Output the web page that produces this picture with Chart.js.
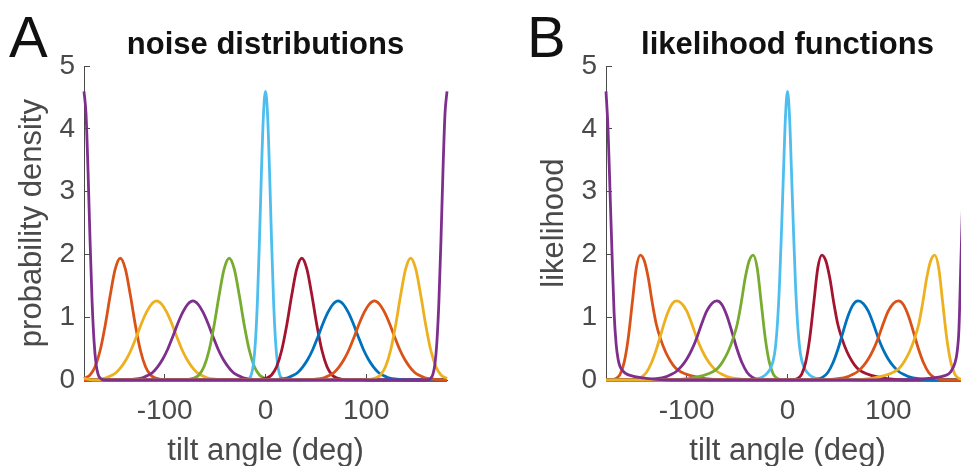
<!DOCTYPE html>
<html>
<head>
<meta charset="utf-8">
<script src="https://cdn.jsdelivr.net/npm/chart.js@4.4.1/dist/chart.umd.min.js"></script>
<style>
  html, body { margin: 0; padding: 0; background: #fff; overflow: hidden; width: 961px; height: 466px; }
  .panel { position: absolute; top: 0; width: 480px; height: 466px; }
  .letter { position: absolute; top: 8px; font-family: 'Liberation Sans', Arial, Helvetica, sans-serif; font-size: 58px; line-height: 1; color: #111; }
</style>
</head>
<body>
<div class="letter" style="left:9px">A</div>
<div class="letter" style="left:527px">B</div>
<div class="panel" style="left:0px"><canvas id="chartA"></canvas></div>
<div class="panel" style="left:522px"><canvas id="chartB"></canvas></div>

<script>
// colores matlab
const BLUE = '#0072BD', ORANGE = '#D95319', YELLOW = '#EDB120', PURPLE = '#7E2F8E',
      GREEN = '#77AC30', CYAN = '#4DBEEE', RED = '#A2142F';

// ---- A: noise distributions ----
const aOrange1X = [-180, -174, -169, -164, -159, -154, -149, -144, -139, -134, -129, -124, -119, -114, -109, -104, -94, 170, 180];
const aOrange1Y = [0.025, 0.08, 0.21, 0.47, 0.87, 1.35, 1.77, 1.94, 1.77, 1.35, 0.87, 0.47, 0.21, 0.08, 0.03, 0.01, 0, 0, 0.025];
const aYellow1X = [-180, -168, -158, -153, -148, -143, -138, -133, -128, -123, -118, -113, -108, -103, -98, -93, -88, -83, -78, -73, -68, -63, -58, -48, -38, 180];
const aYellow1Y = [0, 0.01, 0.035, 0.07, 0.12, 0.21, 0.33, 0.49, 0.69, 0.90, 1.08, 1.21, 1.26, 1.21, 1.08, 0.90, 0.69, 0.49, 0.33, 0.21, 0.12, 0.07, 0.035, 0.01, 0, 0];
const aPurple1X = [-180, -142, -132, -122, -117, -112, -107, -102, -97, -92, -87, -82, -77, -72, -67, -62, -57, -52, -47, -42, -37, -32, -27, -22, -12, -2, 180];
const aPurple1Y = [0, 0, 0.01, 0.035, 0.07, 0.12, 0.21, 0.33, 0.49, 0.69, 0.90, 1.08, 1.21, 1.26, 1.21, 1.08, 0.90, 0.69, 0.49, 0.33, 0.21, 0.12, 0.07, 0.035, 0.01, 0, 0];
const aGreenX = [-180, -86, -76, -71, -66, -61, -56, -51, -46, -41, -36, -31, -26, -21, -16, -11, -6, -1, 4, 14, 180];
const aGreenY = [0, 0, 0.01, 0.03, 0.08, 0.21, 0.47, 0.87, 1.35, 1.77, 1.94, 1.77, 1.35, 0.87, 0.47, 0.21, 0.08, 0.03, 0.01, 0, 0];
const aCyanX = [-180, -20, -16, -14, -12, -10, -8, -6, -4, -2, 0, 2, 4, 6, 8, 10, 12, 14, 16, 20, 180];
const aCyanY = [0, 0, 0.03, 0.09, 0.25, 0.61, 1.26, 2.22, 3.33, 4.24, 4.6, 4.24, 3.33, 2.22, 1.26, 0.61, 0.25, 0.09, 0.03, 0, 0];
const aRedX = [-180, -14, -4, 1, 6, 11, 16, 21, 26, 31, 36, 41, 46, 51, 56, 61, 66, 71, 76, 86, 180];
const aRedY = [0, 0, 0.01, 0.03, 0.08, 0.21, 0.47, 0.87, 1.35, 1.77, 1.94, 1.77, 1.35, 0.87, 0.47, 0.21, 0.08, 0.03, 0.01, 0, 0];
const aBlueX = [-180, 2, 12, 22, 27, 32, 37, 42, 47, 52, 57, 62, 67, 72, 77, 82, 87, 92, 97, 102, 107, 112, 117, 122, 132, 142, 180];
const aBlueY = [0, 0, 0.01, 0.035, 0.07, 0.12, 0.21, 0.33, 0.49, 0.69, 0.90, 1.08, 1.21, 1.26, 1.21, 1.08, 0.90, 0.69, 0.49, 0.33, 0.21, 0.12, 0.07, 0.035, 0.01, 0, 0];
const aOrange2X = [-180, 38, 48, 58, 63, 68, 73, 78, 83, 88, 93, 98, 103, 108, 113, 118, 123, 128, 133, 138, 143, 148, 153, 158, 168, 180];
const aOrange2Y = [0, 0, 0.01, 0.035, 0.07, 0.12, 0.21, 0.33, 0.49, 0.69, 0.90, 1.08, 1.21, 1.26, 1.21, 1.08, 0.90, 0.69, 0.49, 0.33, 0.21, 0.12, 0.07, 0.035, 0.01, 0];
const aYellow2X = [-180, -170, 94, 104, 109, 114, 119, 124, 129, 134, 139, 144, 149, 154, 159, 164, 169, 174, 180];
const aYellow2Y = [0.025, 0, 0, 0.01, 0.03, 0.08, 0.21, 0.47, 0.87, 1.35, 1.77, 1.94, 1.77, 1.35, 0.87, 0.47, 0.21, 0.08, 0.025];
const aPurple2X = [-180, -178, -176, -174, -172, -170, -168, -166, -164, -160, 160, 164, 166, 168, 170, 172, 174, 176, 178, 180];
const aPurple2Y = [4.6, 4.24, 3.33, 2.22, 1.26, 0.61, 0.25, 0.09, 0.03, 0, 0, 0.03, 0.09, 0.25, 0.61, 1.26, 2.22, 3.33, 4.24, 4.6];

// ---- B: likelihood functions ----
const bOrange1X = [-180, -176, -170, -166, -162, -158, -154, -150, -146, -142, -138, -134, -130, -126, -121, -116, -111, -106, -96, -86, -76, -61, 180];
const bOrange1Y = [0, 0, 0.025, 0.09, 0.28, 0.66, 1.22, 1.78, 1.99, 1.90, 1.62, 1.22, 0.88, 0.66, 0.45, 0.30, 0.19, 0.13, 0.07, 0.035, 0.015, 0, 0];
const bYellow1X = [-180, -160, -150, -145, -140, -135, -130, -125, -120, -115, -110, -105, -100, -95, -90, -85, -80, -75, -70, -65, -60, -50, -40, -25, 180];
const bYellow1Y = [0, 0, 0.015, 0.045, 0.12, 0.27, 0.49, 0.76, 1.02, 1.20, 1.26, 1.22, 1.10, 0.90, 0.67, 0.48, 0.33, 0.22, 0.14, 0.09, 0.055, 0.02, 0.006, 0, 0];
const bPurple1X = [-180, -155, -140, -130, -120, -115, -110, -105, -100, -95, -90, -85, -80, -75, -70, -65, -60, -55, -50, -45, -40, -35, -30, -20, 180];
const bPurple1Y = [0, 0, 0.006, 0.02, 0.055, 0.09, 0.14, 0.22, 0.33, 0.48, 0.67, 0.90, 1.10, 1.22, 1.26, 1.20, 1.02, 0.76, 0.49, 0.27, 0.12, 0.045, 0.015, 0, 0];
const bGreenX = [-180, -119, -104, -94, -84, -74, -69, -64, -59, -54, -50, -46, -42, -38, -34, -30, -26, -22, -18, -14, -10, -4, 180];
const bGreenY = [0, 0, 0.015, 0.035, 0.07, 0.13, 0.19, 0.30, 0.45, 0.66, 0.88, 1.22, 1.62, 1.90, 1.99, 1.78, 1.22, 0.66, 0.28, 0.09, 0.025, 0, 0];
const bCyanX = [-180, -40, -32, -26, -22, -18, -16, -14, -12, -10, -8, -6, -4, -2, 0, 2, 4, 6, 8, 10, 12, 14, 16, 18, 22, 26, 32, 40, 180];
const bCyanY = [0, 0, 0.015, 0.04, 0.08, 0.15, 0.22, 0.32, 0.52, 0.9, 1.5, 2.35, 3.3, 4.2, 4.6, 4.2, 3.3, 2.35, 1.5, 0.9, 0.52, 0.32, 0.22, 0.15, 0.08, 0.04, 0.015, 0, 0];
const bRedX = [-180, 4, 10, 14, 18, 22, 26, 30, 34, 38, 42, 46, 50, 54, 59, 64, 69, 74, 84, 94, 104, 119, 180];
const bRedY = [0, 0, 0.025, 0.09, 0.28, 0.66, 1.22, 1.78, 1.99, 1.90, 1.62, 1.22, 0.88, 0.66, 0.45, 0.30, 0.19, 0.13, 0.07, 0.035, 0.015, 0, 0];
const bBlueX = [-180, 20, 30, 35, 40, 45, 50, 55, 60, 65, 70, 75, 80, 85, 90, 95, 100, 105, 110, 115, 120, 130, 140, 155, 180];
const bBlueY = [0, 0, 0.015, 0.045, 0.12, 0.27, 0.49, 0.76, 1.02, 1.20, 1.26, 1.22, 1.10, 0.90, 0.67, 0.48, 0.33, 0.22, 0.14, 0.09, 0.055, 0.02, 0.006, 0, 0];
const bOrange2X = [-180, 25, 40, 50, 60, 65, 70, 75, 80, 85, 90, 95, 100, 105, 110, 115, 120, 125, 130, 135, 140, 145, 150, 160, 180];
const bOrange2Y = [0, 0, 0.006, 0.02, 0.055, 0.09, 0.14, 0.22, 0.33, 0.48, 0.67, 0.90, 1.10, 1.22, 1.26, 1.20, 1.02, 0.76, 0.49, 0.27, 0.12, 0.045, 0.015, 0, 0];
const bYellow2X = [-180, 61, 76, 86, 96, 106, 111, 116, 121, 126, 130, 134, 138, 142, 146, 150, 154, 158, 162, 166, 170, 176, 180];
const bYellow2Y = [0, 0, 0.015, 0.035, 0.07, 0.13, 0.19, 0.30, 0.45, 0.66, 0.88, 1.22, 1.62, 1.90, 1.99, 1.78, 1.22, 0.66, 0.28, 0.09, 0.025, 0, 0];
const bPurple2X = [-180, -178, -176, -174, -172, -170, -168, -166, -163, -160, -155, -150, -140, -130, -120, -105, 105, 120, 130, 140, 150, 155, 160, 163, 166, 168, 170, 172, 174, 176, 178, 180];
const bPurple2Y = [4.6, 4.0, 3.0, 2.0, 1.08, 0.58, 0.33, 0.21, 0.14, 0.10, 0.07, 0.05, 0.025, 0.01, 0.003, 0, 0, 0.003, 0.01, 0.025, 0.045, 0.065, 0.10, 0.16, 0.27, 0.42, 0.80, 1.9, 3.0, 3.8, 4.3, 4.6];

const xTicks = [-100, 0, 100];
const yTicks = [0, 1, 2, 3, 4, 5];

const FONT = "'Liberation Sans', Arial, Helvetica, sans-serif";
const GREY = '#4a4a4a';

// curva -> dataset
function curve(xs, ys, color) {
    return {
        data: xs.map((x, i) => ({ x: x, y: ys[i] })),
        borderColor: color,
        borderWidth: 2.8,
        pointRadius: 0,
        cubicInterpolationMode: 'monotone',
        fill: false,
        clip: 4
    };
}

function panel(id, titulo, yTitulo, curvas) {
    new Chart(document.getElementById(id), {
        type: 'line',
        data: { datasets: curvas },
        options: {
            responsive: true,
            maintainAspectRatio: false,
            animation: false,
            layout: { padding: { left: 0, right: 33, top: 0, bottom: 0 } },
            plugins: {
                legend: { display: false },
                tooltip: { enabled: false },
                title: {
                    display: true,
                    text: titulo,
                    fullSize: false,
                    color: '#111',
                    font: { family: FONT, size: 31, weight: 'bold' },
                    padding: { top: 27, bottom: 2 }
                }
            },
            scales: {
                x: {
                    type: 'linear',
                    min: -180,
                    max: 180,
                    afterBuildTicks: (s) => { s.ticks = xTicks.map(v => ({ value: v })); },
                    afterFit: (s) => { s.height = 86; },
                    ticks: { color: GREY, font: { family: FONT, size: 28 }, padding: 20, maxRotation: 0 },
                    grid: { drawOnChartArea: false, tickLength: -6, color: GREY },
                    border: { color: GREY, width: 1 },
                    title: { display: true, text: 'tilt angle (deg)', color: GREY, font: { family: FONT, size: 31 }, padding: { top: 0, bottom: -4 } }
                },
                y: {
                    min: 0,
                    max: 5,
                    afterBuildTicks: (s) => { s.ticks = yTicks.map(v => ({ value: v })); },
                    afterFit: (s) => { s.width = 84; },
                    ticks: { color: GREY, font: { family: FONT, size: 28 }, padding: 15 },
                    grid: { drawOnChartArea: false, tickLength: -6, color: GREY },
                    border: { color: GREY, width: 1 },
                    title: { display: true, text: yTitulo, color: GREY, font: { family: FONT, size: 31 }, padding: { top: 14, bottom: 0 } }
                }
            }
        }
    });
}

// el primer dataset queda encima (purpura como en matlab)
panel('chartA', 'noise distributions', 'probability density', [
    curve(aPurple2X, aPurple2Y, PURPLE),
    curve(aYellow2X, aYellow2Y, YELLOW),
    curve(aOrange2X, aOrange2Y, ORANGE),
    curve(aBlueX, aBlueY, BLUE),
    curve(aRedX, aRedY, RED),
    curve(aCyanX, aCyanY, CYAN),
    curve(aGreenX, aGreenY, GREEN),
    curve(aPurple1X, aPurple1Y, PURPLE),
    curve(aYellow1X, aYellow1Y, YELLOW),
    curve(aOrange1X, aOrange1Y, ORANGE)
]);

panel('chartB', 'likelihood functions', 'likelihood', [
    curve(bPurple2X, bPurple2Y, PURPLE),
    curve(bYellow2X, bYellow2Y, YELLOW),
    curve(bOrange2X, bOrange2Y, ORANGE),
    curve(bBlueX, bBlueY, BLUE),
    curve(bRedX, bRedY, RED),
    curve(bCyanX, bCyanY, CYAN),
    curve(bGreenX, bGreenY, GREEN),
    curve(bPurple1X, bPurple1Y, PURPLE),
    curve(bYellow1X, bYellow1Y, YELLOW),
    curve(bOrange1X, bOrange1Y, ORANGE)
]);
</script>
</body>
</html>
